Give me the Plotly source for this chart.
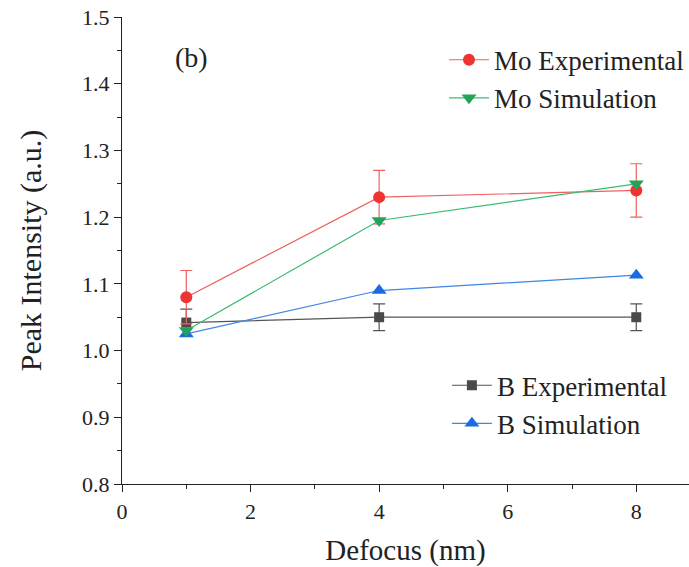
import plotly.graph_objects as go

defocus = [1, 4, 8]
mo_exp = [1.08, 1.23, 1.24]
mo_exp_err = [0.04, 0.04, 0.04]
mo_sim = [1.03, 1.195, 1.25]
b_exp = [1.042, 1.05, 1.05]
b_exp_err = [0.02, 0.02, 0.02]
b_sim = [1.025, 1.09, 1.113]

y_ticks = [0.8, 0.9, 1.0, 1.1, 1.2, 1.3, 1.4, 1.5]
x_ticks = [0, 2, 4, 6, 8]

FONT = "Liberation Serif"

fig = go.Figure()
fig.add_trace(go.Scatter(
    x=defocus, y=b_exp, name="B Experimental", mode="lines+markers",
    line=dict(color="#555555", width=1.2),
    marker=dict(symbol="square", size=10, color="#4a4a4a"),
    error_y=dict(type="data", array=b_exp_err, color="#555555", thickness=1.2, width=6),
    legend="legend2"))
fig.add_trace(go.Scatter(
    x=defocus, y=b_sim, name="B Simulation", mode="lines+markers",
    line=dict(color="#3f86e6", width=1.2),
    marker=dict(symbol="triangle-up", size=13, color="#1a6be0"),
    legend="legend2"))
fig.add_trace(go.Scatter(
    x=defocus, y=mo_exp, name="Mo Experimental", mode="lines+markers",
    line=dict(color="#f06060", width=1.2),
    marker=dict(symbol="circle", size=12, color="#ee3333"),
    error_y=dict(type="data", array=mo_exp_err, color="#f06060", thickness=1.2, width=6),
    legend="legend"))
fig.add_trace(go.Scatter(
    x=defocus, y=mo_sim, name="Mo Simulation", mode="lines+markers",
    line=dict(color="#3dbb70", width=1.2),
    marker=dict(symbol="triangle-down", size=13, color="#23a35a"),
    legend="legend"))

axis_common = dict(
    showline=True, linecolor="#222222", linewidth=1.2,
    ticks="outside", ticklen=7, tickwidth=1.2, tickcolor="#222222",
    showgrid=False, zeroline=False, mirror=False,
    tickfont=dict(family=FONT, size=22, color="#222222"),
    minor=dict(ticks="outside", ticklen=4, tickwidth=1.2, tickcolor="#222222"),
)

fig.update_layout(
    width=689, height=567,
    margin=dict(l=122, r=0, t=17, b=83),
    paper_bgcolor="white", plot_bgcolor="white",
    font=dict(family=FONT, color="#222222"),
    xaxis=dict(range=[0, 8.82], tickvals=x_ticks, ticktext=[str(v) for v in x_ticks],
               title=dict(text="Defocus (nm)", font=dict(family=FONT, size=29), standoff=17),
               **axis_common),
    yaxis=dict(range=[0.8, 1.5], tickvals=y_ticks, ticktext=[f"{v:.1f}" for v in y_ticks],
               title=dict(text="Peak Intensity (a.u.)", font=dict(family=FONT, size=30), standoff=31),
               **axis_common),
    legend=dict(x=1.0, y=0.96, xanchor="right", yanchor="top",
                font=dict(family=FONT, size=27, color="#222222"),
                bgcolor="rgba(0,0,0,0)", tracegroupgap=0, itemwidth=40,
                traceorder="normal"),
    legend2=dict(x=0.573, y=0.263, xanchor="left", yanchor="top",
                 font=dict(family=FONT, size=27, color="#222222"),
                 bgcolor="rgba(0,0,0,0)", tracegroupgap=0, itemwidth=40,
                 traceorder="normal"),
    annotations=[dict(text="(b)", x=0.123, y=0.914, xref="paper", yref="paper",
                      xanchor="center", yanchor="middle",
                      showarrow=False, font=dict(family=FONT, size=28, color="#222222"))],
)

fig.update_xaxes(minor=dict(dtick=1))
fig.update_yaxes(minor=dict(dtick=0.05))

fig.write_html("out.html")
